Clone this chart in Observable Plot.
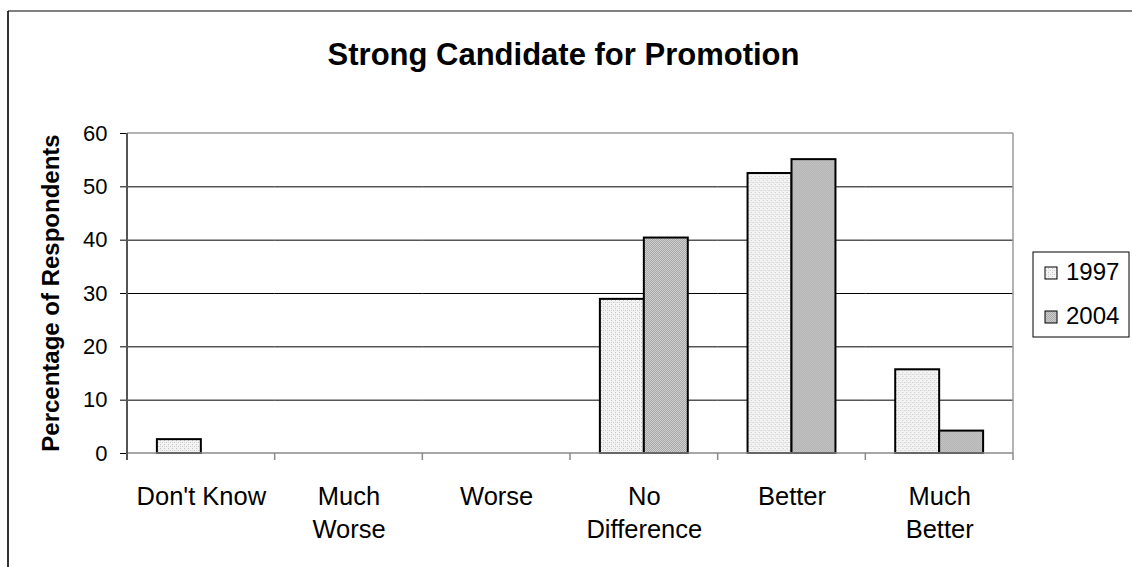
<!DOCTYPE html>
<html>
<head>
<meta charset="utf-8">
<script src="https://cdn.jsdelivr.net/npm/d3@7"></script>
<script src="https://cdn.jsdelivr.net/npm/@observablehq/plot@0.6"></script>
<style>
  html, body { margin: 0; padding: 0; background: #fff; }
  #chart { position: relative; width: 1132px; height: 567px; overflow: hidden; }
  #chart svg { position: absolute; left: 0; top: 0; }
</style>
</head>
<body>
<div id="chart"></div>
<script>
const title = "Strong Candidate for Promotion";
const yLabel = "Percentage of Respondents";
const categories = ["Don't Know", "Much Worse", "Worse", "No Difference", "Better", "Much Better"];
const tickLabels = ["Don't Know", "Much\nWorse", "Worse", "No\nDifference", "Better", "Much\nBetter"];
const years = ["1997", "2004"];
const values1997 = [2.6, 0, 0, 28.9, 52.5, 15.7];
const values2004 = [0, 0, 0, 40.4, 55.1, 4.2];
const yTicks = [0, 10, 20, 30, 40, 50, 60];

const allRows = categories.flatMap((c, i) => [
  {category: c, year: years[0], value: values1997[i]},
  {category: c, year: years[1], value: values2004[i]}
]);
const rows = allRows.filter(d => d.value > 0);

const FONT = "'Liberation Sans', Arial, Helvetica, sans-serif";

const plot = Plot.plot({
  width: 1132,
  height: 567,
  marginLeft: 127,
  marginRight: 119,
  marginTop: 133,
  marginBottom: 114,
  style: {fontFamily: FONT, background: "transparent", color: "#000", overflow: "visible"},
  facet: {marginTop: 0, marginRight: 0, marginBottom: 0, marginLeft: 0},
  fx: {domain: categories, paddingInner: 0, paddingOuter: 0, label: null, round: false},
  x: {domain: years, paddingInner: 0, paddingOuter: 0.68, axis: null, round: false},
  y: {domain: [0, 60], label: null, axis: null},
  marks: [
    // invisible faceted mark so that every category facet is rendered
    Plot.barY(allRows, {fx: "category", x: "year", y: "value", fill: "none", stroke: "none"}),
    Plot.gridY(yTicks.filter(t => t > 0 && t < 60), {stroke: "#000", strokeOpacity: 1, strokeWidth: 1}),
    Plot.barY(rows.filter(d => d.year === years[0]), {fx: "category", x: "year", y: "value", fill: "url(#p1997)", stroke: "#000", strokeWidth: 2}),
    Plot.barY(rows.filter(d => d.year === years[1]), {fx: "category", x: "year", y: "value", fill: "url(#p2004)", stroke: "#000", strokeWidth: 2}),
    Plot.axisY(yTicks, {facetAnchor: "left", tickSize: 7, tickPadding: 13, fontSize: 22, label: null, stroke: "#000"}),
    Plot.axisFx({anchor: "bottom", tickSize: 0, tickPadding: 28, fontSize: 25.5, lineHeight: 1.3, label: null,
      tickFormat: c => tickLabels[categories.indexOf(c)]})
  ]
});

document.getElementById("chart").appendChild(plot);

const svg = d3.select(plot);
// patterns
const defs = svg.insert("defs", ":first-child");
const p1 = defs.append("pattern").attr("id", "p1997").attr("patternUnits", "userSpaceOnUse").attr("width", 4).attr("height", 4);
p1.append("rect").attr("width", 4).attr("height", 4).attr("fill", "#f4f4f4");
p1.append("rect").attr("x", 0).attr("y", 0).attr("width", 1).attr("height", 1).attr("fill", "#c4c4c4");
p1.append("rect").attr("x", 2).attr("y", 2).attr("width", 1).attr("height", 1).attr("fill", "#c4c4c4");
p1.append("rect").attr("x", 0).attr("y", 2).attr("width", 1).attr("height", 1).attr("fill", "#d8d8d8");
const p2 = defs.append("pattern").attr("id", "p2004").attr("patternUnits", "userSpaceOnUse").attr("width", 2).attr("height", 2);
p2.append("rect").attr("width", 2).attr("height", 2).attr("fill", "#cfcfcf");
p2.append("rect").attr("x", 0).attr("y", 0).attr("width", 1).attr("height", 1).attr("fill", "#a8a8a8");
p2.append("rect").attr("x", 1).attr("y", 1).attr("width", 1).attr("height", 1).attr("fill", "#a8a8a8");

// plot-area frame and category boundary ticks from the library's scales
const fxs = plot.scale("fx");
const ys = plot.scale("y");
const band = d3.scaleBand().domain(fxs.domain).range(fxs.range)
  .paddingInner(fxs.paddingInner || 0).paddingOuter(fxs.paddingOuter || 0).align(fxs.align ?? 0.5);
const left = band(categories[0]);
const right = band(categories[categories.length - 1]) + band.bandwidth();
const y0 = Math.max(...ys.range), yTop = Math.min(...ys.range);
const g = svg.append("g");
g.append("line").attr("x1", left).attr("x2", right).attr("y1", yTop).attr("y2", yTop).attr("stroke", "#9a9a9a").attr("stroke-width", 1.5);
g.append("line").attr("x1", right).attr("x2", right).attr("y1", yTop).attr("y2", y0).attr("stroke", "#9a9a9a").attr("stroke-width", 1.5);
g.append("line").attr("x1", left).attr("x2", right).attr("y1", y0).attr("y2", y0).attr("stroke", "#8a8a8a").attr("stroke-width", 1.5);
const bounds = categories.map(c => band(c)).concat([right]);
g.selectAll(".bt").data(bounds).join("line")
  .attr("x1", d => d).attr("x2", d => d).attr("y1", y0).attr("y2", y0 + 7)
  .attr("stroke", "#8a8a8a").attr("stroke-width", 1.5);
g.append("line").attr("x1", left).attr("x2", left).attr("y1", yTop).attr("y2", y0 + 7).attr("stroke", "#555").attr("stroke-width", 2);

// outer chart border
svg.append("line").attr("x1", 8).attr("x2", 8).attr("y1", 11).attr("y2", 567).attr("stroke", "#333").attr("stroke-width", 2);
svg.append("line").attr("x1", 8).attr("x2", 1132).attr("y1", 11).attr("y2", 11).attr("stroke", "#000").attr("stroke-width", 1);

// title
svg.append("text").attr("x", 563.5).attr("y", 65).attr("text-anchor", "middle")
  .attr("font-family", FONT).attr("font-weight", "bold").attr("font-size", 31).attr("fill", "#000").text(title);
// y label
svg.append("text").attr("transform", `translate(59,${(y0 + yTop) / 2}) rotate(-90)`).attr("text-anchor", "middle")
  .attr("font-family", FONT).attr("font-weight", "bold").attr("font-size", 24).attr("fill", "#000").text(yLabel);

// legend
const lg = svg.append("g");
lg.append("rect").attr("x", 1033).attr("y", 252).attr("width", 96).attr("height", 85).attr("fill", "#fff").attr("stroke", "#000").attr("stroke-width", 1);
years.forEach((yr, i) => {
  const cy = 272 + i * 44;
  lg.append("rect").attr("x", 1045).attr("y", cy - 5).attr("width", 12).attr("height", 12)
    .attr("fill", `url(#p${yr})`).attr("stroke", "#000").attr("stroke-width", 1);
  lg.append("text").attr("x", 1066).attr("y", cy + 8).attr("text-anchor", "start")
    .attr("font-family", FONT).attr("font-size", 24).attr("fill", "#000").text(yr);
});
</script>
</body>
</html>
